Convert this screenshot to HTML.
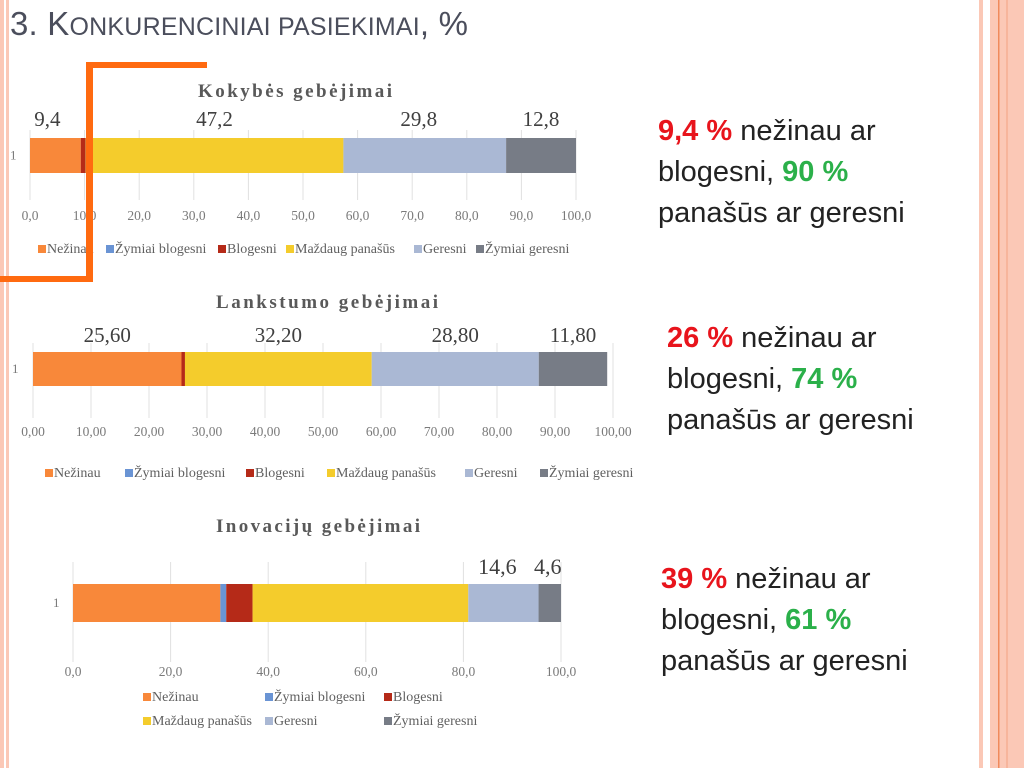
<!DOCTYPE html>
<html><head><meta charset="utf-8"><style>
body{margin:0;width:1024px;height:768px;background:#fff;position:relative;overflow:hidden;font-family:"Liberation Sans",sans-serif}
.r{position:absolute;font-size:29px;line-height:41px;color:#222;white-space:nowrap}
.red{color:#e8141c;font-weight:bold}.grn{color:#2bb04a;font-weight:bold}
</style></head><body>
<svg width="1024" height="768" style="position:absolute;left:0;top:0">
<g>
<rect x="979" y="0" width="4" height="768" fill="#fbc8b6"/>
<rect x="990" y="0" width="34" height="768" fill="#fbc8b6"/>
<rect x="998" y="0" width="1.5" height="768" fill="#f08a5c"/>
<rect x="1006" y="0" width="2" height="768" fill="#f7b59c"/>
</g>
<g>
<rect x="0" y="0" width="4" height="768" fill="#fbc8b6"/>
<rect x="6" y="0" width="3" height="768" fill="#fbc8b6"/>
</g>
<text x="10" y="35" font-size="33" fill="#4b4e5c" font-family="Liberation Sans,sans-serif" textLength="458">3. K<tspan font-size="25">ONKURENCINIAI PASIEKIMAI</tspan>, %</text>
<g id="charts"></g>
<g fill="#ff6a10">
<rect x="86" y="62" width="121" height="6"/>
<rect x="86" y="62" width="7" height="220"/>
<rect x="0" y="276" width="93" height="6"/>
</g>
</svg>
<div class="r" style="left:658px;top:111px"><span class="red">9,4 %</span> nežinau ar<br>blogesni, <span class="grn">90 %</span><br>panašūs ar geresni</div>
<div class="r" style="left:667px;top:318px"><span class="red">26 %</span> nežinau ar<br>blogesni, <span class="grn">74 %</span><br>panašūs ar geresni</div>
<div class="r" style="left:661px;top:559px"><span class="red">39 %</span> nežinau ar<br>blogesni, <span class="grn">61 %</span><br>panašūs ar geresni</div>
<script>
const seriesNames=["Nežinau","Žymiai blogesni","Blogesni","Maždaug panašūs","Geresni","Žymiai geresni"];
const seriesColors=["#f8883a","#6a94d4","#b52a18","#f4cc2c","#aab8d4","#777c86"];
const chart1Values=[9.3,0,0.9,47.2,29.8,12.8];
const chart1Labels=["9,4","","","47,2","29,8","12,8"];
const chart1Ticks=["0,0","10,0","20,0","30,0","40,0","50,0","60,0","70,0","80,0","90,0","100,0"];
const chart2Values=[25.6,0,0.6,32.2,28.8,11.8];
const chart2Labels=["25,60","","","32,20","28,80","11,80"];
const chart2Ticks=["0,00","10,00","20,00","30,00","40,00","50,00","60,00","70,00","80,00","90,00","100,00"];
const chart3Values=[30.2,1.2,5.4,44.2,14.4,4.6];
const chart3Labels=["","","","","14,6","4,6"];
const chart3Ticks=["0,0","20,0","40,0","60,0","80,0","100,0"];
const NS="http://www.w3.org/2000/svg";
const root=document.getElementById('charts');
function mk(t,a,p){const e=document.createElementNS(NS,t);for(const k in a)e.setAttribute(k,a[k]);(p||root).appendChild(e);return e;}
function draw(cfg,vals,labels,ticks){
 const g=mk('g',{});
 
 
 const x=v=>cfg.x0+(v/100)*(cfg.x1-cfg.x0);
 const t=mk('text',{x:cfg.tx,y:cfg.ty,'text-anchor':'middle','font-size':19,'font-weight':'bold',fill:'#595959','font-family':'Liberation Serif,serif',textLength:cfg.tw},g);t.textContent=cfg.title;
 
 
 ticks.forEach((tk,i)=>{const v=i*100/(ticks.length-1);
  mk('line',{x1:x(v),x2:x(v),y1:cfg.gTop,y2:cfg.gBot,stroke:'#e0e0e0'},g);
  const l=mk('text',{x:x(v),y:cfg.tickY,'text-anchor':'middle','font-size':13.5,fill:'#7a7a7a','font-family':'Liberation Serif,serif'},g);l.textContent=tk;
  
  
 });
 const c=mk('text',{x:cfg.catX,y:(cfg.by+cfg.bh/2+4),'font-size':13,fill:'#7a7a7a','font-family':'Liberation Serif,serif'},g);c.textContent='1';
 
 
 let acc=0;
 vals.forEach((v,i)=>{
  const r=mk('rect',{x:x(acc),y:cfg.by,width:Math.max(0,x(acc+v)-x(acc)),height:cfg.bh,fill:seriesColors[i]},g);
  
  
  if(labels[i]){const l=mk('text',{x:x(acc+v/2)+(cfg.lblDx?cfg.lblDx[i]:0),y:cfg.by-cfg.lblOff,'text-anchor':'middle','font-size':cfg.lblSize,fill:'#404040','font-family':'Liberation Serif,serif'},g);l.textContent=labels[i];
   
   }
  acc+=v;
 });
 cfg.legend.forEach((p,i)=>{
  mk('rect',{x:p[0],y:p[1]-8,width:8,height:8,fill:seriesColors[i]},g);
  const l=mk('text',{x:p[0]+9,y:p[1],'font-size':14,fill:'#606060','font-family':'Liberation Serif,serif'},g);l.textContent=seriesNames[i];
  
  
 });
}
draw({name:'chart-kokybes',title:'Kokybės gebėjimai',tx:295,ty:97,tw:194,x0:30,x1:576,gTop:130,gBot:200,tickY:220,catX:10,by:138,bh:35,lblOff:12,lblSize:21,lblDx:[-8,0,0,0,-6,0],
 legend:[[38,253],[106,253],[218,253],[286,253],[414,253],[476,253]]},chart1Values,chart1Labels,chart1Ticks);
draw({name:'chart-lankstumo',title:'Lankstumo gebėjimai',tx:327,ty:308,tw:222,x0:33,x1:613,gTop:343,gBot:418,tickY:436,catX:12,by:352,bh:34,lblOff:10,lblSize:21,
 legend:[[45,477],[125,477],[246,477],[327,477],[465,477],[540,477]]},chart2Values,chart2Labels,chart2Ticks);
draw({name:'chart-inovaciju',title:'Inovacijų gebėjimai',tx:318,ty:532,tw:204,x0:73,x1:561,gTop:562,gBot:662,tickY:676,catX:53,by:584,bh:38,lblOff:10,lblSize:22,lblDx:[0,0,0,0,-6,-2],
 legend:[[143,701],[265,701],[384,701],[143,725],[265,725],[384,725]]},chart3Values,chart3Labels,chart3Ticks);
</script>
</body></html>
